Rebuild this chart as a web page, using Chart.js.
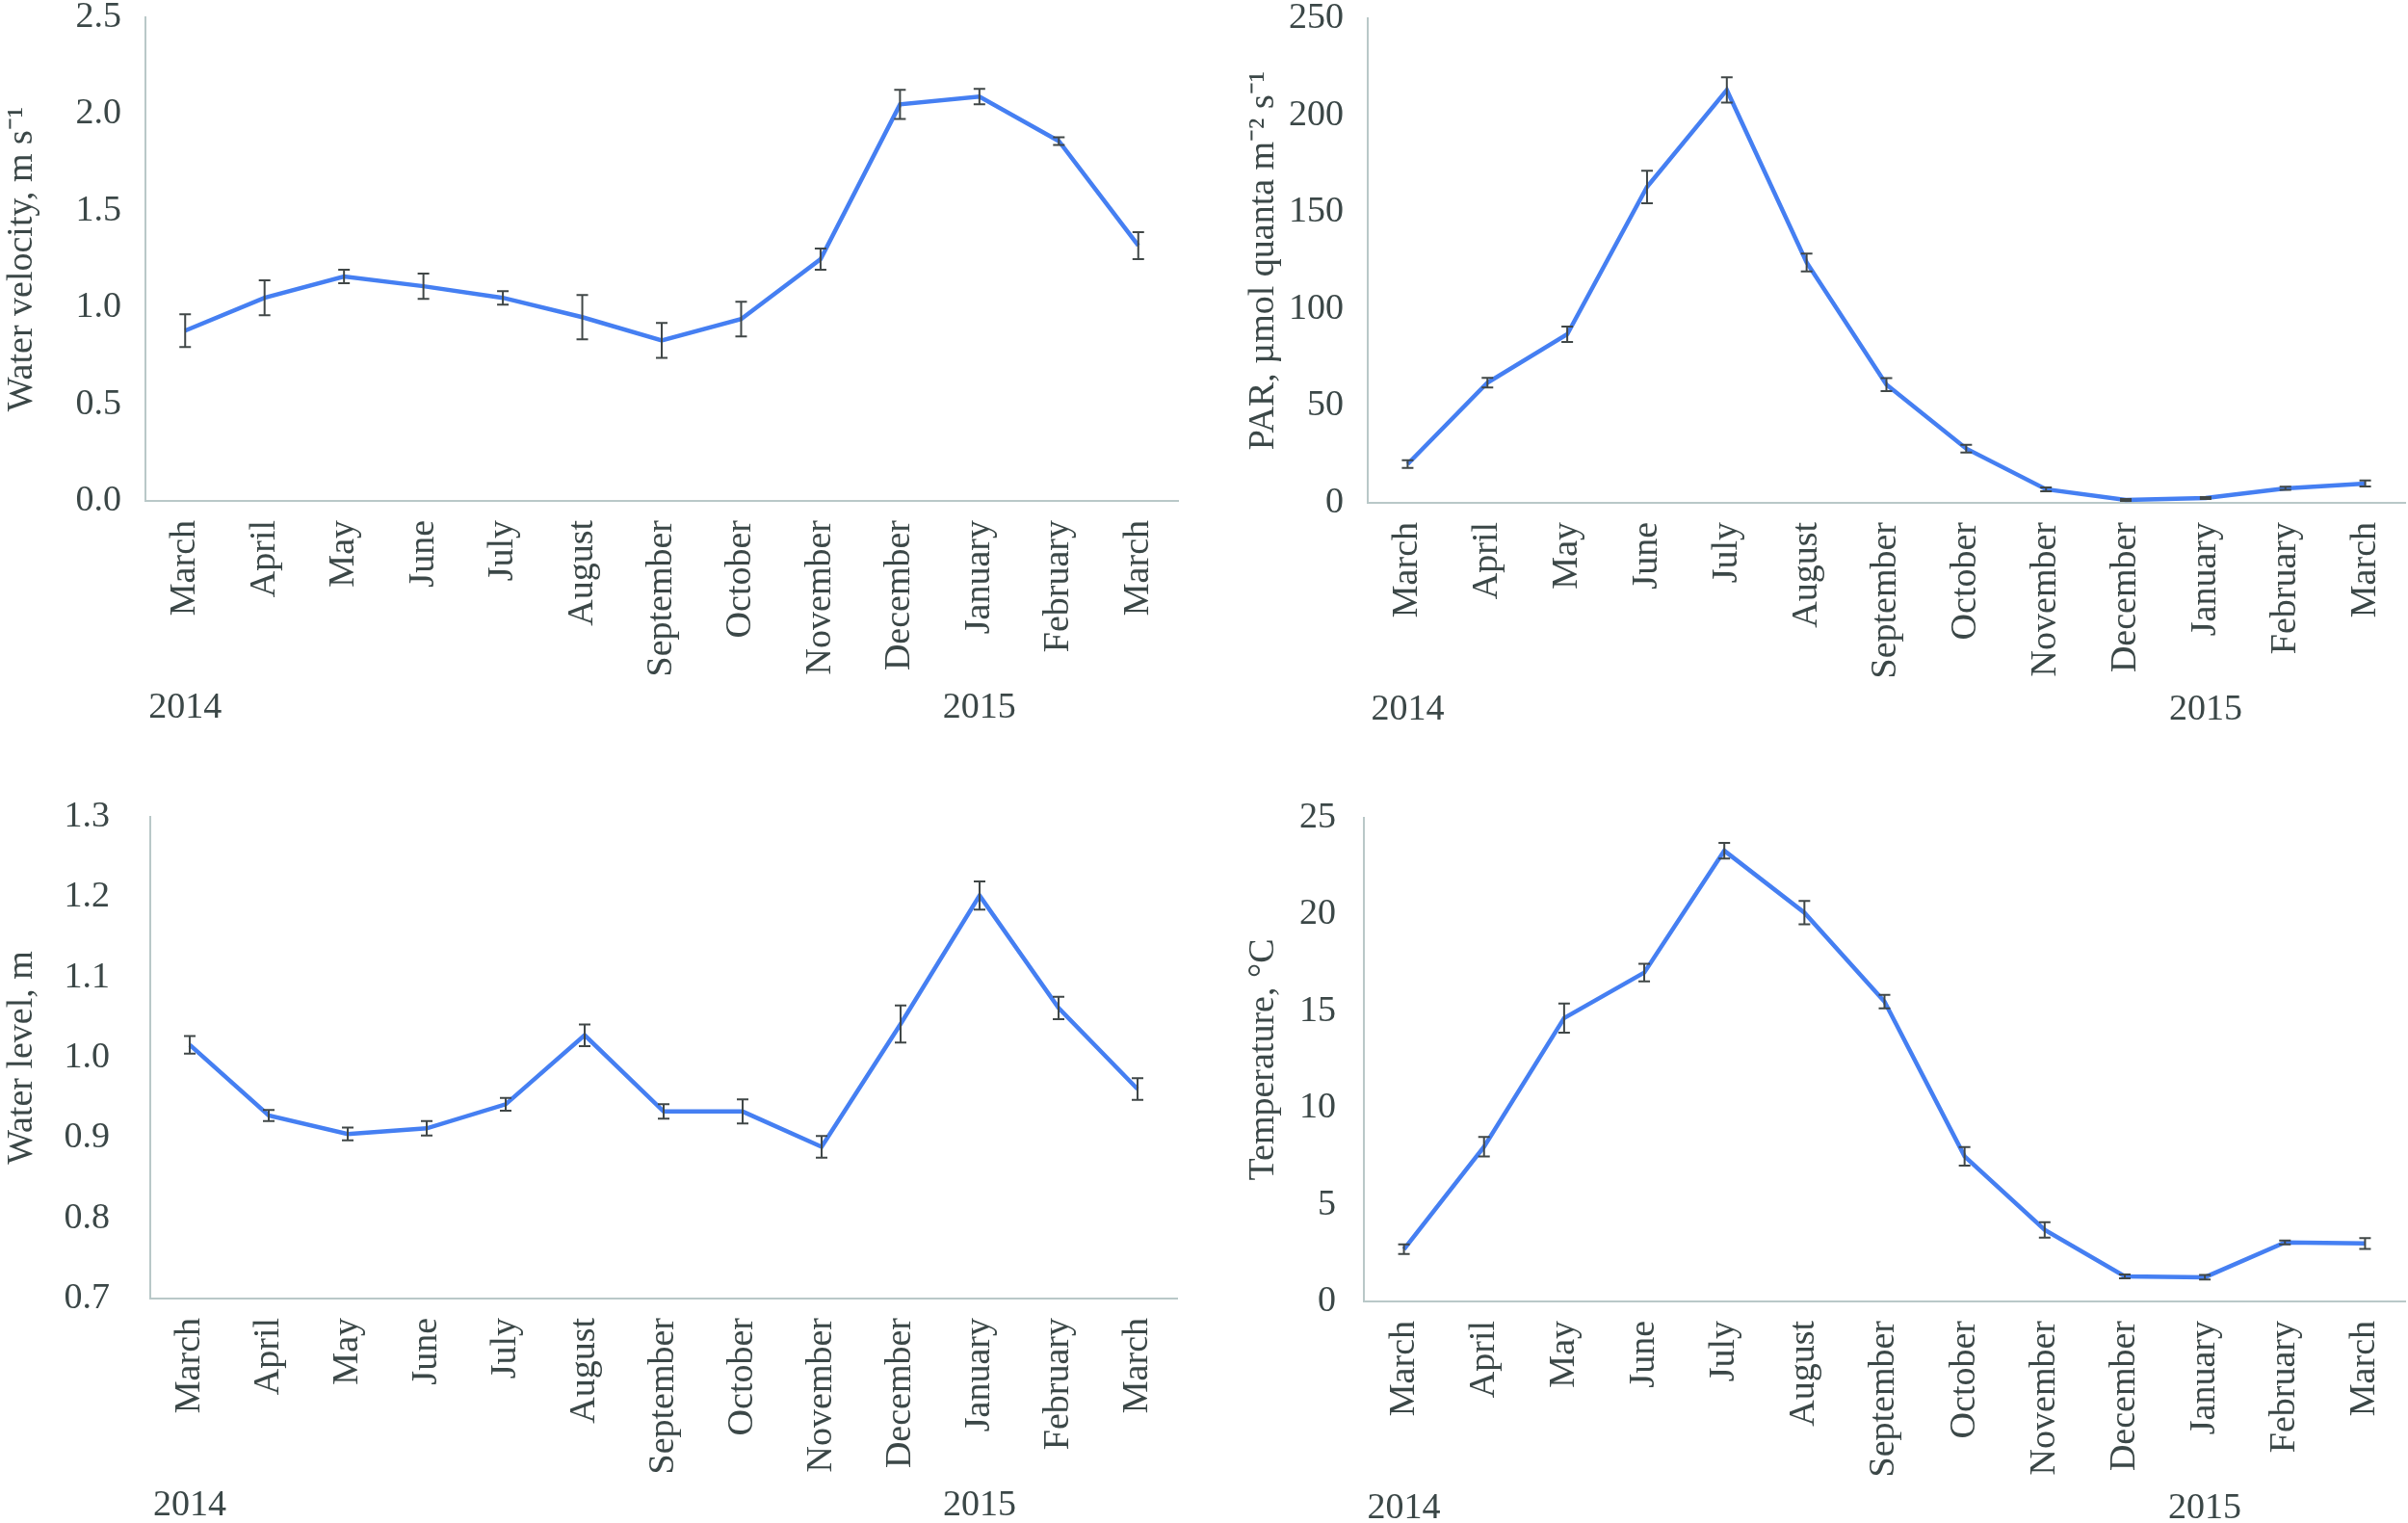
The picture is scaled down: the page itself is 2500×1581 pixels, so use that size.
<!DOCTYPE html>
<html lang="en">
<head>
<meta charset="UTF-8">
<title>Water velocity, PAR, water level and temperature 2014-2015</title>
<script src="https://cdn.jsdelivr.net/npm/chart.js@4.4.1/dist/chart.umd.min.js"></script>
<style>
    body {
        margin: 0;
        background: #ffffff;
    }
    .panel {
        position: absolute;
    }
</style>
</head>
<body>

<!-- four panels, one canvas each -->
<div class="panel" style="left:0px;top:0px"><canvas id="velocityChart" width="1250" height="790"></canvas></div>
<div class="panel" style="left:1250px;top:0px"><canvas id="parChart" width="1250" height="790"></canvas></div>
<div class="panel" style="left:0px;top:790px"><canvas id="levelChart" width="1250" height="791"></canvas></div>
<div class="panel" style="left:1250px;top:790px"><canvas id="tempChart" width="1250" height="791"></canvas></div>

<script>
// categories
const months = ['March', 'April', 'May', 'June', 'July', 'August', 'September',
    'October', 'November', 'December', 'January', 'February', 'March'];
const yearLabels = ['2014', '2015'];
const yearAtMonth = [0, 10];

// water velocity, m/s
const velocity    = [0.88, 1.05, 1.16, 1.11, 1.05, 0.95, 0.83, 0.94, 1.25, 2.05, 2.09, 1.86, 1.32];
const velocityErr = [0.085, 0.09, 0.035, 0.065, 0.035, 0.115, 0.09, 0.09, 0.055, 0.075, 0.04, 0.02, 0.07];

// PAR, umol quanta m-2 s-1
const par    = [20, 62, 87, 163, 213, 124, 61, 28, 7, 1.5, 2.5, 7.5, 10];
const parErr = [2, 2.5, 4, 8.4, 6.5, 4.6, 3.4, 2, 1, 0.5, 0.5, 0.8, 1.5];

// water level, m
const level    = [1.016, 0.928, 0.905, 0.912, 0.942, 1.028, 0.933, 0.933, 0.889, 1.042, 1.202, 1.062, 0.961];
const levelErr = [0.011, 0.007, 0.008, 0.009, 0.008, 0.0135, 0.009, 0.015, 0.0135, 0.023, 0.0175, 0.014, 0.0135];

// temperature, C
const temperature = [2.7, 8.0, 14.65, 17.0, 23.3, 20.1, 15.5, 7.5, 3.7, 1.3, 1.25, 3.05, 3.0];
const temperatureErr = [0.25, 0.5, 0.75, 0.45, 0.4, 0.6, 0.35, 0.48, 0.4, 0.1, 0.12, 0.1, 0.28];

const ink = '#3b4747';
const blue = '#457ff2';
const axisGrey = '#b9c8c8';
const serif = "'Liberation Serif', 'Times New Roman', serif";

Chart.defaults.font.family = serif;
Chart.defaults.color = ink;

// vertical error bars with small caps, drawn over the line
const errorBars = {
    id: 'errorBars',
    afterDatasetsDraw(chart, args, opts) {
        const ctx = chart.ctx;
        const xs = chart.scales.x, ys = chart.scales.y;
        const values = chart.data.datasets[0].data;
        ctx.save();
        ctx.strokeStyle = '#404747';
        ctx.lineWidth = 2;
        values.forEach(function (v, i) {
            const e = opts.errors[i];
            const x = xs.getPixelForValue(i);
            const yTop = ys.getPixelForValue(v + e);
            const yBot = ys.getPixelForValue(v - e);
            ctx.beginPath();
            ctx.moveTo(x, yTop); ctx.lineTo(x, yBot);
            ctx.moveTo(x - 6, yTop); ctx.lineTo(x + 6, yTop);
            ctx.moveTo(x - 6, yBot); ctx.lineTo(x + 6, yBot);
            ctx.stroke();
        });
        ctx.restore();
    }
};

// year captions under the month labels
const yearText = {
    id: 'yearText',
    afterDraw(chart) {
        const ctx = chart.ctx;
        const xs = chart.scales.x;
        ctx.save();
        ctx.font = '38px ' + serif;
        ctx.fillStyle = ink;
        ctx.textAlign = 'center';
        ctx.textBaseline = 'middle';
        yearLabels.forEach(function (txt, k) {
            ctx.fillText(txt, xs.getPixelForValue(yearAtMonth[k]), chart.chartArea.bottom + 215);
        });
        ctx.restore();
    }
};

function makeChart(id, values, errors, title, yMin, yMax, step, decimals, box) {
    return new Chart(document.getElementById(id), {
        type: 'line',
        data: {
            labels: months,
            datasets: [{
                data: values,
                borderColor: blue,
                borderWidth: 4.5,
                pointRadius: 0,
                tension: 0,
                fill: false
            }]
        },
        options: {
            responsive: false,
            animation: false,
            layout: {
                padding: { left: box.padLeft, top: box.padTop, right: box.padRight, bottom: 0 }
            },
            plugins: {
                legend: { display: false },
                tooltip: { enabled: false },
                errorBars: { errors: errors }
            },
            scales: {
                x: {
                    offset: true,
                    grid: { display: false, drawTicks: false },
                    border: { display: true, color: axisGrey, width: 2 },
                    ticks: {
                        autoSkip: false,
                        minRotation: 90,
                        maxRotation: 90,
                        padding: 20,
                        color: ink,
                        font: { size: 38 }
                    },
                    afterFit(scale) {
                        scale.height = box.xHeight;
                        scale.paddingLeft = scale.paddingRight = 0;
                        scale.paddingTop = scale.paddingBottom = 0;
                    }
                },
                y: {
                    min: yMin,
                    max: yMax,
                    grid: { display: false, drawTicks: false },
                    border: { display: true, color: axisGrey, width: 2 },
                    ticks: {
                        stepSize: step,
                        padding: box.tickPad,
                        color: ink,
                        font: { size: 38 },
                        callback: function (v) { return Number(v).toFixed(decimals); }
                    },
                    title: {
                        display: true,
                        text: title,
                        color: ink,
                        padding: 0,
                        font: { size: 38 }
                    },
                    afterFit(scale) {
                        scale.width = box.yWidth;
                        scale.paddingLeft = scale.paddingRight = 0;
                        scale.paddingTop = scale.paddingBottom = 0;
                    }
                }
            }
        },
        plugins: [errorBars, yearText]
    });
}

makeChart('velocityChart', velocity, velocityErr, 'Water velocity, m s\u207B\u00B9', 0, 2.5, 0.5, 1,
    { padLeft: 0, yWidth: 151, padTop: 18, padRight: 27, xHeight: 270, tickPad: 25 });
makeChart('parChart', par, parErr, 'PAR, \u00B5mol quanta m\u207B\u00B2 s\u207B\u00B9', 0, 250, 50, 0,
    { padLeft: 39, yWidth: 131, padTop: 19, padRight: 3, xHeight: 268, tickPad: 25 });
makeChart('levelChart', level, levelErr, 'Water level, m', 0.7, 1.3, 0.1, 1,
    { padLeft: 0, yWidth: 156, padTop: 58, padRight: 28, xHeight: 233, tickPad: 42 });
makeChart('tempChart', temperature, temperatureErr, 'Temperature, \u00B0C', 0, 25, 5, 0,
    { padLeft: 39, yWidth: 127, padTop: 59, padRight: 3, xHeight: 230, tickPad: 29 });
</script>
</body>
</html>
